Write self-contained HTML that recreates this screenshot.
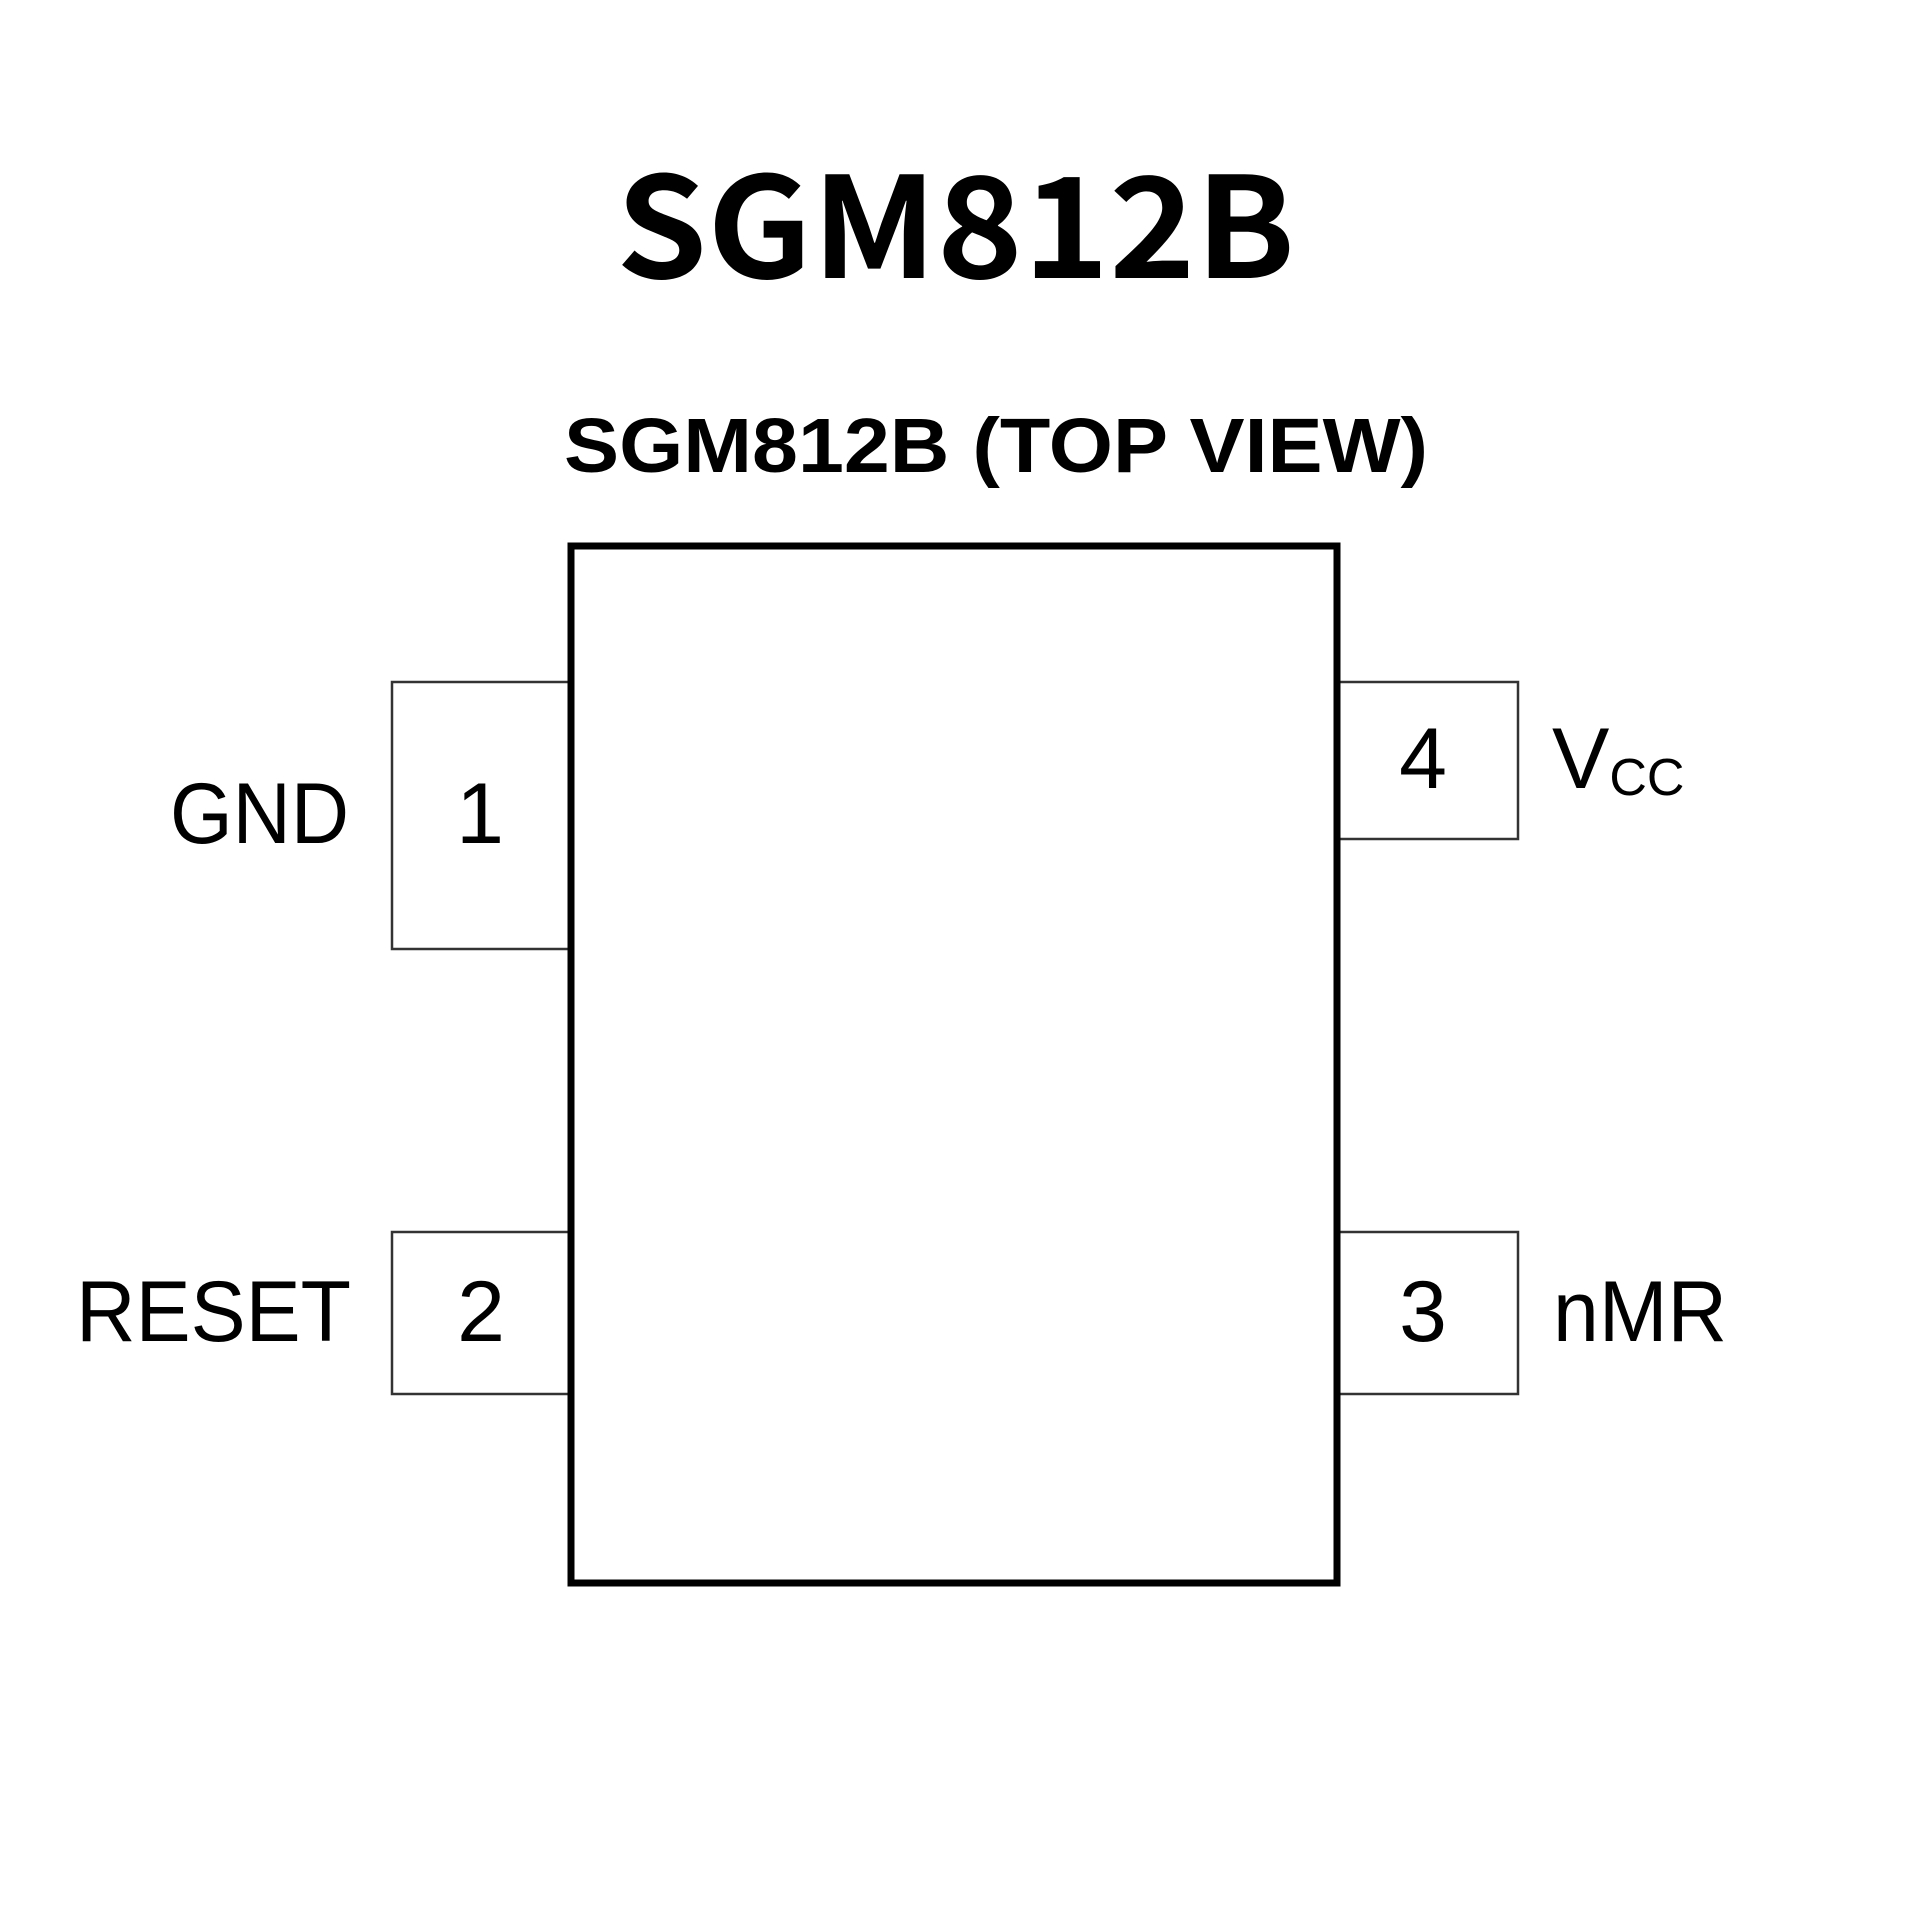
<!DOCTYPE html>
<html><head><meta charset="utf-8"><style>html,body{margin:0;padding:0;background:#fff}svg{display:block}</style></head>
<body>
<svg width="1920" height="1920" viewBox="0 0 1920 1920" xmlns="http://www.w3.org/2000/svg">
<rect width="1920" height="1920" fill="#fff"/>
<text x="616" y="278" font-family="Noto Sans CJK SC, DejaVu Sans, sans-serif" font-weight="700" font-size="140" textLength="679" lengthAdjust="spacingAndGlyphs" fill="#000">SGM812B</text>
<text x="564" y="472" font-family="Liberation Sans, sans-serif" font-weight="700" font-size="77" textLength="864" lengthAdjust="spacingAndGlyphs" fill="#000">SGM812B (TOP VIEW)</text>
<g fill="none" stroke="#333" stroke-width="2.5">
<rect x="392" y="682" width="179" height="267"/>
<rect x="392" y="1232" width="179" height="162"/>
<rect x="1337" y="682" width="181" height="157"/>
<rect x="1337" y="1232" width="181" height="162"/>
</g>
<rect x="571" y="546" width="766" height="1037" fill="#fff" stroke="#000" stroke-width="7"/>
<g font-family="Liberation Sans, sans-serif" font-size="86" fill="#000">
<text x="170" y="843" textLength="179" lengthAdjust="spacingAndGlyphs">GND</text>
<text x="480" y="843" text-anchor="middle">1</text>
<text x="76" y="1341" textLength="275" lengthAdjust="spacingAndGlyphs">RESET</text>
<text x="481" y="1341" text-anchor="middle">2</text>
<text x="1423" y="788" text-anchor="middle">4</text>
<text x="1423" y="1341" text-anchor="middle">3</text>
<text x="1552" y="788">V<tspan font-size="52" dy="7">CC</tspan></text>
<text x="1553" y="1341" textLength="174" lengthAdjust="spacingAndGlyphs">nMR</text>
</g>
</svg>
</body></html>
